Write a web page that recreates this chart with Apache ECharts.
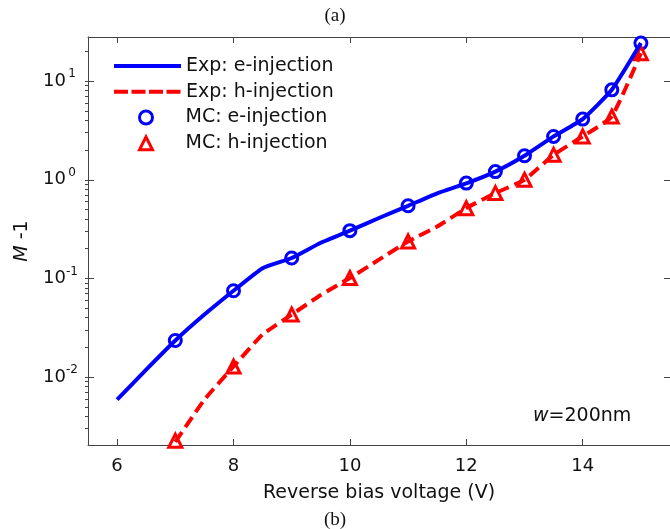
<!DOCTYPE html>
<html>
<head>
<meta charset="utf-8">
<script src="https://cdn.jsdelivr.net/npm/echarts@6/dist/echarts.min.js"></script>
<style>
html, body { margin: 0; padding: 0; background: #fff; }
#chart { width: 670px; height: 529px; }
</style>
</head>
<body>
<div id="chart"></div>
<script>
// reverse bias (V) for the measured curves
var voltExpE = [6, 6.5, 7, 7.5, 8, 8.5, 9, 9.5, 10, 10.5, 11, 11.5, 12, 12.5, 13, 13.5, 14, 14.5, 15];
var expE = [0.0059, 0.0119, 0.0235, 0.043, 0.075, 0.127, 0.161, 0.23, 0.305, 0.41, 0.545, 0.73, 0.92, 1.21, 1.75, 2.75, 4.12, 8.16, 24.3];
var voltExpH = [7, 7.5, 8, 8.5, 9, 9.5, 10, 10.5, 11, 11.5, 12, 12.5, 13, 13.5, 14, 14.5, 15];
var expH = [0.0022, 0.0059, 0.0128, 0.027, 0.043, 0.068, 0.101, 0.155, 0.237, 0.336, 0.516, 0.733, 1.0, 1.79, 2.75, 4.38, 19.2];
// Monte Carlo points
var voltMC = [7, 8, 9, 10, 11, 12, 12.5, 13, 13.5, 14, 14.5, 15];
var mcE = [0.0235, 0.075, 0.161, 0.305, 0.545, 0.925, 1.21, 1.75, 2.75, 4.12, 8.16, 24.3];
var mcH = [0.00227, 0.0128, 0.043, 0.101, 0.237, 0.516, 0.733, 1.0, 1.79, 2.75, 4.38, 19.2];
// ticks
var xTicks = [6, 8, 10, 12, 14];
var yMajor = [0.01, 0.1, 1, 10];
var yMinor = [0.003, 0.004, 0.005, 0.006, 0.007, 0.008, 0.009,
	0.02, 0.03, 0.04, 0.05, 0.06, 0.07, 0.08, 0.09,
	0.2, 0.3, 0.4, 0.5, 0.6, 0.7, 0.8, 0.9,
	2, 3, 4, 5, 6, 7, 8, 9, 20];

function pairs(xs, ys) {
	var out = [];
	for(var i = 0; i < xs.length; i++) {
		out.push([xs[i], ys[i]]);
	}
	return out;
}

var FONT = 'DejaVu Sans';
var axisColor = '#444';
var txtColor = '#111';
var blue = '#0000ff',
	red = '#ff0000';
var yMin = 0.00205,
	yMax = 28;
var gridW = 585;

var chart = echarts.init(document.getElementById('chart'));

var gridBox = { left: 88, top: 37, width: gridW, height: 408 };

// right-side log axis pulled back onto the left edge: draws the left tick marks pointing into the plot
function leftTicks(gridIndex, values, len) {
	return {
		gridIndex: gridIndex,
		type: 'log',
		min: yMin,
		max: yMax,
		position: 'right',
		offset: -gridW,
		axisLine: { show: true, lineStyle: { color: 'rgba(0,0,0,0)', width: 1 } },
		axisTick: { show: true, inside: false, length: len, customValues: values, lineStyle: { color: axisColor } },
		axisLabel: { show: false },
		splitLine: { show: false }
	};
}

var option = {
	animation: false,
	title: [{
		text: '(a)',
		left: 'center',
		top: 2,
		textStyle: { fontFamily: 'Liberation Serif', fontSize: 19, fontWeight: 'normal', color: txtColor }
	}, {
		text: '(b)',
		left: 'center',
		top: 506,
		textStyle: { fontFamily: 'Liberation Serif', fontSize: 19, fontWeight: 'normal', color: txtColor }
	}],
	grid: [gridBox, echarts.util.extend({}, gridBox), echarts.util.extend({}, gridBox)],
	legend: [{
		orient: 'vertical',
		left: 112,
		top: 56,
		padding: 0,
		itemGap: 5.8,
		itemWidth: 67,
		itemHeight: 4,
		itemStyle: { color: 'rgba(0,0,0,0)', borderWidth: 0 },
		textStyle: { fontFamily: FONT, fontSize: 19, color: txtColor, lineHeight: 20 },
		data: [{
			name: 'Exp: e-injection',
			lineStyle: { width: 4, type: 'solid' }
		}, {
			name: 'Exp: h-injection',
			lineStyle: { width: 4, type: [14, 3.5] }
		}]
	}, {
		orient: 'vertical',
		left: 138,
		top: 107.5,
		padding: 0,
		itemGap: 5.8,
		itemWidth: 13,
		itemHeight: 13,
		itemStyle: { borderWidth: 3 },
		formatter: function(name) {
			return '{g|}' + name;
		},
		textStyle: {
			fontFamily: FONT, fontSize: 19, color: txtColor, lineHeight: 20,
			rich: { g: { width: 28 } }
		},
		data: ['MC: e-injection', 'MC: h-injection']
	}],
	xAxis: [{
		type: 'value',
		min: 5.5,
		max: 15.5,
		position: 'bottom',
		name: 'Reverse bias voltage (V)',
		nameLocation: 'middle',
		nameGap: 39,
		nameTextStyle: { fontFamily: FONT, fontSize: 19, color: txtColor },
		axisLine: { lineStyle: { color: axisColor, width: 1 } },
		axisTick: { show: true, inside: true, length: 6, customValues: xTicks, lineStyle: { color: axisColor } },
		axisLabel: { customValues: xTicks, margin: 12, fontFamily: FONT, fontSize: 18, color: txtColor },
		splitLine: { show: false }
	}, {
		type: 'value',
		min: 5.5,
		max: 15.5,
		position: 'top',
		axisLine: { lineStyle: { color: axisColor, width: 1 } },
		axisTick: { show: true, inside: true, length: 6, customValues: xTicks, lineStyle: { color: axisColor } },
		axisLabel: { show: false },
		splitLine: { show: false }
	}, {
		gridIndex: 1, type: 'value', min: 5.5, max: 15.5, show: false
	}, {
		gridIndex: 2, type: 'value', min: 5.5, max: 15.5, show: false
	}],
	yAxis: [{
		type: 'log',
		min: yMin,
		max: yMax,
		position: 'left',
		axisLine: { show: true, lineStyle: { color: axisColor, width: 1 } },
		axisTick: { show: true, inside: true, length: 6, customValues: yMajor, lineStyle: { color: axisColor } },
		axisLabel: {
			customValues: yMajor,
			margin: 10,
			formatter: function(v) {
				return '{b|10}{s|' + Math.round(Math.log10(v)) + '}';
			},
			rich: {
				b: { fontFamily: FONT, fontSize: 18, color: txtColor, lineHeight: 26 },
				s: { fontFamily: FONT, fontSize: 12, color: txtColor, lineHeight: 10, verticalAlign: 'top', width: 12, align: 'left' }
			}
		},
		splitLine: { show: false }
	}, {
		type: 'log',
		min: yMin,
		max: yMax,
		position: 'right',
		axisLine: { show: true, lineStyle: { color: axisColor, width: 1 } },
		axisTick: { show: true, inside: true, length: 6, customValues: yMajor, lineStyle: { color: axisColor } },
		axisLabel: { show: false },
		splitLine: { show: false }
	},
	leftTicks(1, yMinor, 3.5),
	leftTicks(2, yMajor, 6)
	],
	graphic: [{
		type: 'text',
		x: 22,
		y: 241,
		rotation: Math.PI / 2,
		style: {
			text: '{i|M} -1',
			align: 'center',
			verticalAlign: 'middle',
			fontFamily: FONT,
			fontSize: 19,
			fill: txtColor,
			rich: {
				i: { fontFamily: FONT, fontSize: 19, fontStyle: 'italic', fill: txtColor }
			}
		}
	}, {
		type: 'text',
		left: 533,
		top: 407,
		style: {
			text: '{i|w}=200nm',
			fontFamily: FONT,
			fontSize: 19,
			fill: txtColor,
			rich: {
				i: { fontFamily: FONT, fontSize: 19, fontStyle: 'italic', fill: txtColor }
			}
		}
	}],
	series: [{
		name: 'Exp: e-injection',
		type: 'line',
		data: pairs(voltExpE, expE),
		symbol: 'none',
		smooth: 0.15,
		color: blue,
		lineStyle: { color: blue, width: 4 }
	}, {
		name: 'Exp: h-injection',
		type: 'line',
		data: pairs(voltExpH, expH),
		symbol: 'none',
		smooth: 0.15,
		color: red,
		lineStyle: { color: red, width: 4, type: [12, 6] }
	}, {
		name: 'MC: e-injection',
		type: 'scatter',
		data: pairs(voltMC, mcE),
		symbol: 'circle',
		symbolSize: 12,
		itemStyle: { color: '#fff', borderColor: blue, borderWidth: 3, opacity: 1 }
	}, {
		name: 'MC: h-injection',
		type: 'scatter',
		data: pairs(voltMC, mcH),
		symbol: 'triangle',
		symbolSize: 13,
		itemStyle: { color: '#fff', borderColor: red, borderWidth: 3, opacity: 1 }
	}]
};

chart.setOption(option);
</script>
</body>
</html>
